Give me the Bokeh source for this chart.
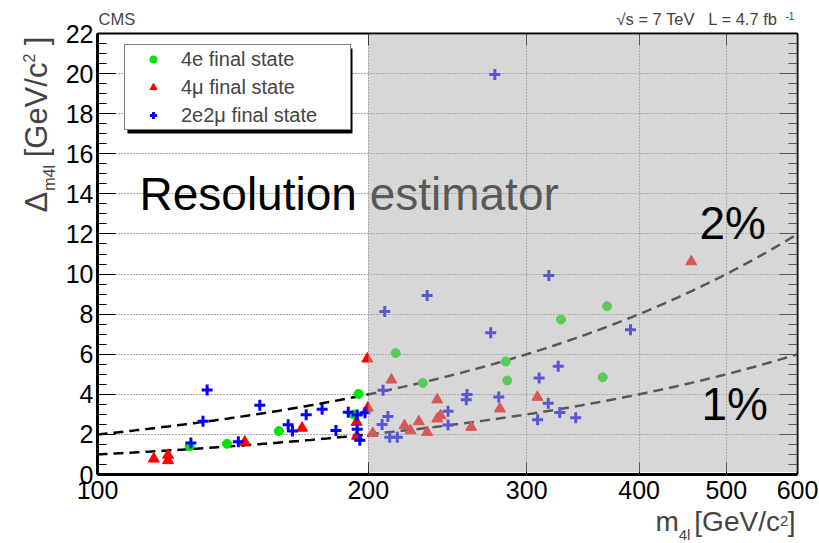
import numpy as np
from bokeh.plotting import figure
from bokeh.models import (FixedTicker, LinearAxis, LogAxis, Label, BoxAnnotation,
                          Legend, LegendItem, Range1d, NumeralTickFormatter)
from bokeh.embed import file_html
from bokeh.resources import INLINE

# ---- event data: four-lepton mass [GeV/c^2] and per-event mass resolution [GeV/c^2]
e4_mass = [126.6, 139.3, 159.1, 192.8, 195.1, 214.5, 229.9, 284.4, 285.4, 327.5, 364.5, 368.5]
e4_res = [1.41, 1.53, 2.17, 2.99, 4.02, 6.06, 4.57, 5.64, 4.69, 7.73, 4.85, 8.39]

mu4_mass = [115.5, 119.8, 119.8, 145.8, 168.8, 194.1, 194.3, 199.8, 199.5, 202.3, 212.2,
            219.4, 222.8, 227.6, 232.5, 238.6, 238.6, 240.6, 260.3, 280.1, 308.3, 457.1]
mu4_res = [0.78, 0.97, 0.70, 1.62, 2.32, 2.61, 1.92, 3.32, 5.77, 2.06, 4.72,
           2.44, 2.19, 2.64, 2.11, 3.73, 2.78, 2.94, 2.36, 3.28, 3.86, 10.62]

e2mu2_mass = [127.0, 131.0, 132.4, 143.4, 151.5, 162.9, 164.7, 170.6, 177.7, 184.1, 190.0,
              194.4, 194.4, 195.7, 198.3, 208.6, 207.7, 210.3, 207.2, 211.3, 215.4, 232.5,
              245.3, 245.3, 257.5, 257.0, 273.6, 276.5, 279.3, 308.5, 309.7, 317.0, 317.5,
              325.2, 326.5, 340.1, 391.3]
e2mu2_res = [1.57, 2.66, 4.22, 1.64, 3.45, 2.48, 2.17, 2.98, 3.25, 2.19, 3.11,
             2.97, 2.26, 1.71, 3.08, 8.13, 4.20, 2.89, 2.49, 1.86, 1.86, 8.93,
             3.15, 2.47, 3.99, 3.73, 7.07, 19.95, 3.86, 2.73, 4.81, 3.56, 9.93,
             5.40, 3.09, 2.83, 7.22]

# relative-resolution reference curves
res_fractions = [0.02, 0.01]
res_labels = ["2%", "1%"]

x_ticks = [100, 200, 300, 400, 500, 600]
y_ticks = list(range(0, 23, 2))
high_mass_start = 200

FONT = "Liberation Sans"
NBSP = "\u00a0"
DESC = 0.2  # descender depth (em) between a label's bottom edge and its baseline

# frame geometry in pixels
FL, FB = 97, 474  # frame left / bottom on the canvas

def sx(cx):
    return cx - FL

def sy(cy):
    return FB - cy

p = figure(width=819, height=543, x_axis_type="log",
           x_range=Range1d(100, 600), y_range=Range1d(0, 22),
           output_backend="svg", toolbar_location=None,
           min_border_left=97, min_border_right=22, min_border_top=33, min_border_bottom=69,
           background_fill_color="white", border_fill_color="white")
p.outline_line_color = None

# ---- grid (dotted)
p.xgrid.ticker = FixedTicker(ticks=x_ticks[1:-1])
p.ygrid.ticker = FixedTicker(ticks=y_ticks[1:-1])
for g in (p.xgrid, p.ygrid):
    g.grid_line_color = "#555555"
    g.grid_line_dash = "1 2"
    g.grid_line_width = 1

# ---- axes
y_minor = [v / 2 for v in range(0, 45) if v % 4 != 0]

def hide_labels(ax):
    ax.major_label_text_font_size = "0px"
    ax.major_label_text_color = None
    ax.major_label_standoff = 0

def style_y(ax, show_labels):
    ax.ticker = FixedTicker(ticks=y_ticks, minor_ticks=y_minor)
    ax.major_tick_in = 18
    ax.major_tick_out = 0
    ax.minor_tick_in = 9
    ax.minor_tick_out = 0
    if show_labels:
        ax.major_label_text_font = FONT
        ax.major_label_text_font_size = "25px"
        ax.major_label_text_color = "black"
        ax.major_label_standoff = 4
    else:
        hide_labels(ax)

def style_x(ax, show_labels):
    ax.ticker = FixedTicker(ticks=x_ticks, minor_ticks=[])
    ax.formatter = NumeralTickFormatter(format="0")
    ax.major_tick_in = 12
    ax.major_tick_out = 0
    ax.minor_tick_in = 0
    ax.minor_tick_out = 0
    if show_labels:
        ax.major_label_text_font = FONT
        ax.major_label_text_font_size = "25px"
        ax.major_label_text_color = "black"
        ax.major_label_standoff = 6
    else:
        hide_labels(ax)

style_y(p.yaxis[0], True)
p.yaxis[0].axis_line_width = 3
style_x(p.xaxis[0], True)
p.xaxis[0].axis_line_width = 3

right_ax = LinearAxis()
style_y(right_ax, False)
right_ax.axis_line_width = 2
p.add_layout(right_ax, "right")

top_ax = LogAxis()
style_x(top_ax, False)
top_ax.axis_line_width = 2
p.add_layout(top_ax, "above")

# ---- reference curves  sigma = f * m
m_grid = np.geomspace(x_ticks[0], x_ticks[-1], 300)
for f in res_fractions:
    p.line(m_grid, f * m_grid, line_color="black", line_width=2.5, line_dash="10 6")

# ---- events
r_e = p.scatter(e4_mass, e4_res, marker="circle", size=9,
                fill_color=(0, 230, 0), line_color=(0, 230, 0))
r_mu = p.scatter(mu4_mass, mu4_res, marker="triangle", size=11,
                 fill_color=(255, 0, 0), line_color=(255, 0, 0))
r_em = p.scatter(e2mu2_mass, e2mu2_res, marker="cross", size=11, line_width=3,
                 line_color=(0, 0, 255))

# ---- text inside the frame (below the shaded band); positions are baselines
BIG = 46
p.add_layout(Label(x=sx(139), y=sy(210 + DESC * BIG), x_units="screen", y_units="screen",
                   text="Resolution estimator", text_font=FONT,
                   text_font_size=f"{BIG}px", text_color="black"))

# ---- legend with drop shadow
p.add_layout(BoxAnnotation(left=sx(127), right=sx(352), top=sy(48), bottom=sy(133),
                           left_units="screen", right_units="screen",
                           top_units="screen", bottom_units="screen",
                           fill_color="black", fill_alpha=1, line_color=None))
legend = Legend(items=[LegendItem(label="4e final state", renderers=[r_e]),
                       LegendItem(label="4\u03bc final state", renderers=[r_mu]),
                       LegendItem(label="2e2\u03bc final state", renderers=[r_em])],
                location=(sx(124), sy(130)), padding=0, margin=0, spacing=0,
                glyph_width=56, glyph_height=18, label_height=28, label_width=169,
                label_standoff=0, label_text_font=FONT, label_text_font_size="20px",
                border_line_color="black", border_line_width=1,
                background_fill_color="white", background_fill_alpha=1)
p.add_layout(legend)

# ---- shaded high-mass band drawn over points, curves and text
p.add_layout(BoxAnnotation(left=high_mass_start, bottom=0.12, top=21.95,
                           fill_color="#b0b0b0", fill_alpha=0.5, line_color=None,
                           level="overlay"))

for lab, (cx, cy) in zip(res_labels, [(699, 239), (701, 420)]):
    p.add_layout(Label(x=sx(cx), y=sy(cy + DESC * BIG), x_units="screen", y_units="screen",
                       text=lab, text_font=FONT, text_font_size=f"{BIG}px",
                       text_color="black", level="overlay"))

# ---- texts outside the frame live in the side panels, in canvas pixels.
# (cx, cy) is the start of the baseline; for upright-reading labels the
# bottom edge sits below the baseline, for rotated ones it sits to the right.
def outer_label(side, cx, cy, text, size, angle=0.0, **kw):
    if angle:
        cx = cx + DESC * size
    else:
        cy = cy + DESC * size
    p.add_layout(Label(x=cx, y=cy, x_units="canvas", y_units="canvas", text=text,
                       text_font=FONT, text_font_size=f"{size}px", angle=angle, **kw),
                 side)

# advance widths of Liberation Sans, per 1000 em
W = {'[': 278, ']': 278, 'G': 778, 'e': 556, 'V': 667, '/': 278, 'c': 500,
     'm': 833, '4': 556, 'l': 222, '2': 556, ' ': 278, NBSP: 278, '\u0394': 668}

def tw(s, size):
    return sum(W[c] for c in s) * size / 1000.0

# header line: experiment tag on the left, energy / luminosity on the right
HEAD = 16.5
header = "CMS" + NBSP * 105 + "\u221as = 7 TeV" + NBSP * 3 + "L = 4.7 fb"
outer_label("above", 98, 24, header, HEAD)
outer_label("right", 785, 17, "-1", 10)

# x title  m_4l [GeV/c^2]
XM, XS = 28, 15
x_main = "m" + NBSP * 2 + "[GeV/c" + NBSP + "]"
x0 = 795.0 - tw(x_main, XM)
outer_label("below", x0, 531, x_main, XM)
outer_label("right", x0 + tw("m", XM), 539, "4l", XS)
outer_label("left", x0 + tw("m" + NBSP * 2 + "[GeV/c", XM), 522, "2", XS)

# y title  Delta_m4l [GeV/c^2], rotated, reading upwards
YM, YS = 31, 16
y_main = "\u0394" + NBSP * 4 + "[GeV/c" + NBSP * 2 + "]"
y0 = 212.0
outer_label("left", 47, y0, y_main, YM, angle=np.pi / 2)
outer_label("left", 54, y0 - tw("\u0394", YM) - 1, "m4l", YS, angle=np.pi / 2)
outer_label("above", 31, y0 - tw("\u0394" + NBSP * 4 + "[GeV/c", YM), "2", YS,
            angle=np.pi / 2)

open("out.html", "w").write(file_html(p, INLINE))
